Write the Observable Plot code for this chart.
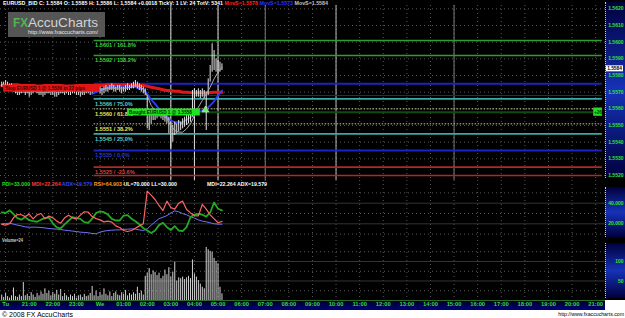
<!DOCTYPE html>
<html>
<head>
<meta charset="utf-8">
<title>EURUSD_BID 5-minute chart</title>
<script src="https://cdn.jsdelivr.net/npm/d3@7"></script>
<script src="https://cdn.jsdelivr.net/npm/@observablehq/plot@0.6"></script>
<style>
html,body{margin:0;padding:0;background:#fff;}
#chart{position:relative;width:625px;height:318px;overflow:hidden;background:#fff;}
#chart > div, #chart > svg{position:absolute;}
.panel{background:linear-gradient(to bottom,#00003c 0%,#1632b8 50%,#00003c 100%);border-left:1px dotted #c8c8c8;box-sizing:border-box;}
</style>
</head>
<body>
<div id="chart"></div>
<script>
// ---------------- DATA ----------------
const hourLabels = ["Tu","21:00","22:00","23:00","We","01:00","02:00","03:00","04:00","05:00","06:00","07:00","08:00","09:00","10:00","11:00","12:00","13:00","14:00","15:00","16:00","17:00","18:00","19:00","20:00","21:00"];
const timeWindow = ["Tu 19:47", "We 21:25"];
const priceWindow = [1.5517, 1.5622];
const priceTicks = [1.5520,1.5530,1.5540,1.5550,1.5560,1.5570,1.5580,1.5590,1.5600,1.5610,1.5620];
const indicatorWindow = [3.79, 62.04];
const indicatorTicks = [20, 40];
const indicatorDots = [10, 30, 50];
const volumeWindow = [0, 153.8];
const volumeTicks = [50, 100];
const volumeDots = [25, 75, 125];
const lastPrice = 1.5584;

// 5-minute bars starting Tu 19:50
const firstBar = "Tu 19:50";
const barMinutes = 5;
const barHigh = [1.5576,1.5576,1.5577,1.5576,1.5575,1.5575,1.5574,1.5573,1.5573,1.5572,
1.5574,1.5573,1.5572,1.5573,1.5572,1.5571,1.5572,1.5573,1.5572,1.5571,
1.5572,1.5571,1.5572,1.5573,1.5572,1.5571,1.5572,1.5571,1.5570,1.5571,
1.5572,1.5572,1.5571,1.5572,1.5571,1.5572,1.5573,1.5572,1.5571,1.5572,
1.5571,1.5572,1.5571,1.5572,1.5573,1.5572,1.5573,1.5574,1.5573,1.5574,
1.5573,1.5572,1.5573,1.5574,1.5573,1.5574,1.5575,1.5574,1.5573,1.5574,
1.5574,1.5573,1.5573,1.5574,1.5575,1.5574,1.5575,1.5576,1.5577,1.5576,
1.5575,1.5574,1.5573,1.5572,1.5568,1.5556,1.5558,1.5560,1.5558,1.5559,
1.5560,1.5559,1.5558,1.5557,1.5557,1.5555,1.5552,1.5550,1.5552,1.5551,
1.5553,1.5552,1.5554,1.5555,1.5556,1.5557,1.5558,1.5571,1.5572,1.5571,
1.5572,1.5571,1.5572,1.5571,1.5570,1.5578,1.5586,1.5599,1.5595,1.5590,
1.5589,1.5588,1.5587];
const barLow = [1.5573,1.5574,1.5574,1.5573,1.5572,1.5571,1.5570,1.5569,1.5568,1.5568,
1.5569,1.5570,1.5568,1.5569,1.5567,1.5568,1.5569,1.5570,1.5569,1.5568,
1.5568,1.5567,1.5568,1.5569,1.5569,1.5568,1.5568,1.5567,1.5567,1.5568,
1.5569,1.5569,1.5568,1.5569,1.5568,1.5568,1.5569,1.5569,1.5568,1.5568,
1.5567,1.5568,1.5568,1.5569,1.5569,1.5568,1.5569,1.5570,1.5570,1.5571,
1.5569,1.5568,1.5569,1.5570,1.5570,1.5571,1.5571,1.5570,1.5570,1.5571,
1.5570,1.5569,1.5570,1.5570,1.5571,1.5571,1.5572,1.5572,1.5573,1.5572,
1.5571,1.5570,1.5569,1.5568,1.5548,1.5547,1.5551,1.5553,1.5553,1.5554,
1.5555,1.5554,1.5553,1.5552,1.5551,1.5545,1.5536,1.5540,1.5544,1.5545,
1.5546,1.5547,1.5548,1.5549,1.5550,1.5551,1.5552,1.5555,1.5566,1.5567,
1.5567,1.5566,1.5567,1.5566,1.5547,1.5568,1.5576,1.5582,1.5583,1.5582,
1.5581,1.5582,1.5583];
const barVolume = [14,8,18,10,6,12,32,10,8,14,
10,46,12,16,10,20,14,8,18,12,
22,16,30,18,24,12,20,16,26,14,
28,10,18,12,8,14,10,16,6,12,
14,8,16,10,12,18,36,12,24,10,
20,14,30,16,12,22,10,18,22,14,
12,20,16,26,12,18,14,20,16,34,
18,24,14,62,70,82,66,76,72,64,
70,56,62,78,66,84,60,72,98,50,
58,56,60,54,58,62,56,104,68,60,
51,42,34,30,136,130,126,124,108,100,
94,34,17];

// 10-minute study samples starting Tu 19:50
const firstStudy = "Tu 19:50";
const studyMinutes = 10;
const pdi = [31,30.5,33,29.5,25.5,24,26.5,23.5,22.5,22,24,25.5,26,20.5,16.5,15.5,19.5,23,26.5,25.5,24.8,21.6,21,25,30.5,32,31.3,29,24.8,23.2,23.2,28,28.5,25,22.5,19.5,15.7,13.5,11,13.5,18.7,21,16.7,14,17.7,13.5,12.8,16.7,26.4,29,29.7,28.8,27,31,40.7,34.6,33];
const mdi = [19.4,18.7,20,25.8,29,28.8,27,29.4,24.8,28.7,30,25,27.5,25.8,22.6,20.6,25.8,28.4,25.8,24.5,28.4,31.7,31.3,27,25,23.8,21.9,22.6,21.6,18,16.4,13.5,12.5,13.5,15.7,18,20,51.7,47.8,43.6,37.8,32.9,42,35.8,34.2,40,42,33.9,30.6,28,27.7,38.8,34.2,28.7,24.8,21,22.3];
const adx = [20,20.3,20.6,19.7,18.7,18,17,16.7,16.7,16.7,16.4,16,15.4,15.1,14.8,14.5,13.8,13.5,12.9,12.5,11.9,11.6,11.3,10.6,10.3,11.9,12.9,13.5,13.8,14.1,14.1,14.5,14.8,15.1,14.8,14.1,13.5,15.1,18.7,21.9,25,26.4,28,30.3,32.6,31.6,29.9,28.7,27,25.5,23.8,22.6,21.9,21,20,19.7,19.6];
const movRed = [1.5574,1.5574,1.5574,1.55745,1.55745,1.5574,1.5574,1.5574,1.5574,1.55735,
1.55735,1.5574,1.5574,1.5574,1.5574,1.5574,1.55735,1.55735,1.55735,1.5574,
1.5574,1.5574,1.5574,1.5574,1.5574,1.5574,1.5574,1.55745,1.55745,1.55745,
1.55745,1.55745,1.55745,1.5574,1.5574,1.5574,1.5574,
1.55735,1.5573,1.55725,1.5572,1.55715,1.5571,1.5571,1.55705,1.55705,1.5570,
1.5570,1.55698,1.55697,1.55696,1.55696,1.55697,1.55698,1.5570,1.5570,1.5570];
const movBlue = [null,null,null,null,null,null,null,null,null,null,
null,null,null,null,null,null,null,null,null,null,
null,null,null,
1.5569,1.5570,1.5571,1.5572,1.5573,1.5573,1.5573,1.5573,1.5573,1.5573,
1.5573,1.5573,1.5572,1.5572,1.5569,1.55655,1.5563,1.5560,1.5557,1.55547,
1.5553,1.5552,1.5552,1.5552,1.55535,1.5555,1.55565,1.5558,1.5559,1.5560,
1.5562,1.55645,1.5568,1.5571];
const movGray = [1.5575,1.5574,1.5572,1.5571,1.5570,1.5570,1.5570,1.5570,1.55705,1.5570,
1.5570,1.5570,1.5570,1.55705,1.5570,1.5570,1.5570,1.55705,1.5571,1.5571,
1.5570,1.5570,1.55705,1.5571,1.55715,1.5572,1.5572,1.5572,1.55725,1.5572,
1.5572,1.5572,1.55725,1.5573,1.5574,1.5573,1.5572,1.5568,1.5562,1.5559,
1.5557,1.5556,1.5554,1.5550,1.5547,1.5546,1.5546,1.5548,1.5551,1.5556,
1.5561,1.5565,1.5569,1.5573,1.5578,1.5582,1.5585];

// Fibonacci levels
const fibPrice = [1.5601, 1.5592, 1.5575, 1.5566, 1.5560, 1.5551, 1.5545, 1.5535, 1.5525, 1.5520];
const fibLabel = ["1.5601 / 161.8%", "1.5592 / 138.2%", "", "1.5566 / 75.0%", "1.5560 / 61.8%", "1.5551 / 38.2%", "1.5545 / 25.0%", "1.5535 / 0.0%", "1.5525 / -23.6%", ""];
const fibKind = ["ext", "ext", "top", "q", "mid", "mid", "q", "base", "neg", "neg"];
const fibFrom = "Tu 23:45", fibTo = "We 21:17";
const stopLevel = 1.5568;

// trade annotations
const stopBox = {text: "Stop EURUSD 1 @ 1.5536 in 22 pips", from: "Tu 19:55", to: "We 00:00", lo: 1.5570, hi: 1.55742};
const buyBox = {text: "Bought EURUSD 1 @ 1.5558", from: "We 01:10", to: "We 04:15", lo: 1.55557, hi: 1.55599};
const buyPrice = 1.5558;
const entry = {time: "We 04:28", price: 1.55593};
const plBox = {text: "+26", from: "We 20:55", to: "We 21:17", lo: 1.55555, hi: 1.55605};

const sessionFull = ["We 03:00", "We 05:00", "We 07:00", "We 10:00", "We 15:00"];
const sessionPartial = "We 04:00";
const sessionPartialTop = 1.5572;

const headerParts = ["EURUSD_BID C: 1.5584 O: 1.5585 H: 1.5586 L: 1.5584 +0.0018 TickV: 1 LV: 24 TotV: 5341 ", "MovS=1.5578 ", "MovS=1.5573 ", "MovS=1.5584"];
const studyParts = ["PDI=33.000 ", "MDI=22.264 ", "ADX=19.579 ", "RSI=64.903 ", "UL=70.000 LL=30.000"];
const studyRight = "MDI=22.264 ADX=19.579";
const volumeTitle = "Volume=24";

// ---------------- RENDER ----------------
const FONT = "'Liberation Sans', Arial, Helvetica, sans-serif";
const toH = s => { const [d, t] = s.split(" "); const [hh, mm] = t.split(":").map(Number); return (d === "We" ? 24 : 0) + hh + mm / 60 - 20; };
const xDomain = timeWindow.map(toH);
const hourIdx = hourLabels.map((_, i) => i);
const bars = barHigh.map((hi, i) => ({t: toH(firstBar) + i * barMinutes / 60, hi, lo: barLow[i], vol: barVolume[i]}));
const studies = pdi.map((p, k) => ({t: toH(firstStudy) + k * studyMinutes / 60, pdi: p, mdi: mdi[k], adx: adx[k], red: movRed[k], blue: movBlue[k], gray: movGray[k]}));
const fibs = fibPrice.map((p, i) => ({p, label: fibLabel[i], kind: fibKind[i]}));
const fx1 = toH(fibFrom), fx2 = toH(fibTo);

const chart = document.getElementById("chart");
function addDiv(css, cls) { const d = document.createElement("div"); if (cls) d.className = cls; Object.assign(d.style, css); chart.appendChild(d); return d; }
addDiv({left: "0px", top: "0px", width: "625px", height: "300px", background: "#000"});
addDiv({left: "0px", top: "300px", width: "605px", height: "10px", background: "linear-gradient(to bottom,#000028,#00007a)", borderTop: "1px solid #2d6a2d", boxSizing: "border-box"});
addDiv({left: "605px", top: "2px", width: "20px", height: "176px"}, "panel");
addDiv({left: "605px", top: "187px", width: "20px", height: "50px"}, "panel");
addDiv({left: "605px", top: "243px", width: "20px", height: "55px"}, "panel");

const common = {width: 625, marginLeft: 0, marginRight: 20, x: {domain: xDomain, axis: null}, color: {type: "identity"},
  style: {background: "transparent", overflow: "visible", fontFamily: FONT}};
function place(svg, top) { svg.style.position = "absolute"; svg.style.left = "0px"; svg.style.top = top + "px"; chart.appendChild(svg); return svg; }

const dotted = {stroke: "#585858", strokeDasharray: "1,3", strokeWidth: 1};
const axisText = {frameAnchor: "right", dx: 18, textAnchor: "end", fill: "#2ee82e", fontSize: 5, fontWeight: "bold"};
const fibStyle = {
  ext:  {stroke: "#2e9e2e", width: 1.6, text: "#3ad23a"},
  top:  {stroke: "#1c22c4", width: 2, text: "#2a34d0"},
  q:    {stroke: "#3aa9a9", width: 1.6, text: "#4fd0d0"},
  mid:  {stroke: "#c8c890", width: 1, dash: "1.5,1.5", text: "#e6e660"},
  base: {stroke: "#1c22c4", width: 2, text: "#2a34d0"},
  neg:  {stroke: "#b02828", width: 1.6, text: "#d84040"}
};
const sessionStroke = ["#e0e0e0", "#e0e0e0", "#7a7a7a", "#b8b8b8", "#7a7a7a"];
const boxText = {textAnchor: "start", dx: 1.5, fontSize: 4.7, fontWeight: "bold"};
const mid = d => (d.lo + d.hi) / 2;

const pricePlot = place(Plot.plot({
  ...common, height: 180, marginTop: 5, marginBottom: 0,
  y: {domain: priceWindow, axis: null},
  marks: [
    Plot.ruleY(priceTicks, dotted),
    Plot.ruleX(hourIdx, dotted),
    Plot.ruleX(sessionFull, {x: d => toH(d), stroke: (d, i) => sessionStroke[i]}),
    Plot.ruleX([sessionPartial], {x: d => toH(d), y1: sessionPartialTop, y2: priceWindow[0], stroke: "#e0e0e0"}),
    ...fibs.map(f => Plot.ruleY([f.p], {x1: fx1, x2: fx2, stroke: fibStyle[f.kind].stroke, strokeWidth: fibStyle[f.kind].width, strokeDasharray: fibStyle[f.kind].dash})),
    Plot.ruleY([stopLevel], {x1: fx1, x2: fx2, stroke: "#5c1a1a"}),
    Plot.ruleY([buyPrice], {x1: toH(buyBox.to), x2: toH(plBox.from), stroke: "#0f4a0f", strokeWidth: 2}),
    Plot.line(studies, {x: "t", y: "red", stroke: "#e01818", strokeWidth: 3}),
    Plot.line(studies.filter(d => d.blue != null), {x: "t", y: "blue", stroke: "#2b3dff", strokeWidth: 1.8}),
    Plot.ruleX(bars, {x: "t", y1: "lo", y2: "hi", stroke: "#e4e4e4"}),
    Plot.line(studies, {x: "t", y: "gray", stroke: "#a8a8a8", strokeWidth: 1}),
    ...fibs.filter(f => f.label).map(f => Plot.text([f], {x: fx1, y: "p", text: "label", dx: 1, dy: 5, textAnchor: "start", fill: fibStyle[f.kind].text, fontSize: 5.6, fontWeight: "bold"})),
    Plot.rect([stopBox], {x1: d => toH(d.from), x2: d => toH(d.to), y1: "lo", y2: "hi", fill: "#e41414"}),
    Plot.text([stopBox], {x: d => toH(d.from), y: mid, text: "text", fill: "#3a0000", ...boxText}),
    Plot.rect([buyBox], {x1: d => toH(d.from), x2: d => toH(d.to), y1: "lo", y2: "hi", fill: "#1ee61e"}),
    Plot.text([buyBox], {x: d => toH(d.from), y: mid, text: "text", fill: "#002200", ...boxText}),
    Plot.rect([plBox], {x1: d => toH(d.from), x2: d => toH(d.to), y1: "lo", y2: "hi", fill: "#22dd22"}),
    Plot.text([plBox], {x: d => (toH(d.from) + toH(d.to)) / 2, y: mid, text: "text", fill: "#003300", textAnchor: "middle", fontSize: 4.5, fontWeight: "bold"}),
    Plot.dot([entry], {x: d => toH(d.time), y: "price", symbol: "triangle", r: 2.6, fill: "#66ee66", stroke: "#d0ffd0", strokeWidth: 0.5}),
    Plot.text(priceTicks, {y: d => d, text: d => d.toFixed(4), ...axisText})
  ]
}), 0);

place(Plot.plot({
  ...common, height: 60, marginTop: 0, marginBottom: 0,
  y: {domain: indicatorWindow, axis: null},
  marks: [
    Plot.ruleX(hourIdx, dotted),
    Plot.ruleY(indicatorDots, dotted),
    Plot.ruleY(indicatorTicks, {stroke: "#333"}),
    Plot.line(studies, {x: "t", y: "adx", stroke: "#7272ff", strokeWidth: 1}),
    Plot.line(studies, {x: "t", y: "pdi", stroke: "#22aa22", strokeWidth: 1.8}),
    Plot.line(studies, {x: "t", y: "mdi", stroke: "#ff6464", strokeWidth: 1.2}),
    Plot.text(indicatorTicks, {y: d => d, text: d => d.toFixed(3), ...axisText})
  ]
}), 180);

place(Plot.plot({
  ...common, height: 70, marginTop: 0, marginBottom: 10,
  y: {domain: volumeWindow, axis: null},
  marks: [
    Plot.ruleX(hourIdx, dotted),
    Plot.ruleY(volumeDots, dotted),
    Plot.ruleY(volumeTicks, {stroke: "#333"}),
    Plot.ruleX(bars, {x: "t", y1: 0, y2: "vol", stroke: "#d2d2d2"}),
    Plot.text(volumeTicks, {y: d => d, text: d => String(d), ...axisText}),
    Plot.text(hourIdx, {x: d => d, text: d => hourLabels[d], frameAnchor: "bottom", dy: 5.3, fill: "#33dd33", fontSize: 5.8, fontWeight: "bold"})
  ]
}), 240);

// ---------------- overlay texts ----------------
const ov = d3.select(chart).append("svg").attr("width", 625).attr("height", 318)
  .style("left", "0px").style("top", "0px").style("font-family", FONT);

const hdrColors = ["#ffffff", "#ff2424", "#3030ff", "#c4c4c4"];
const hdr = ov.append("text").attr("x", 3).attr("y", 5.4).attr("font-size", 4.8).attr("font-weight", "bold")
  .attr("textLength", 325).attr("lengthAdjust", "spacingAndGlyphs");
headerParts.forEach((t, i) => hdr.append("tspan").attr("fill", hdrColors[i]).text(t));

const stColors = ["#22dd22", "#ff3838", "#3444ff", "#ff9a22", "#ffffff"];
const st = ov.append("text").attr("x", 2).attr("y", 185.6).attr("font-size", 4.8).attr("font-weight", "bold")
  .attr("textLength", 175).attr("lengthAdjust", "spacingAndGlyphs");
studyParts.forEach((t, i) => st.append("tspan").attr("fill", stColors[i]).text(t));
ov.append("text").attr("x", 207).attr("y", 185.6).attr("font-size", 4.8).attr("font-weight", "bold").attr("fill", "#fff")
  .attr("textLength", 60).attr("lengthAdjust", "spacingAndGlyphs").text(studyRight);
ov.append("text").attr("x", 2).attr("y", 242).attr("font-size", 4.8).attr("font-weight", "bold").attr("fill", "#cfcfcf")
  .attr("textLength", 21).attr("lengthAdjust", "spacingAndGlyphs").text(volumeTitle);

// watermark
const wm = ov.append("g");
wm.append("rect").attr("x", 8).attr("y", 12).attr("width", 97).attr("height", 25).attr("fill", "#5e5e5e").attr("opacity", 0.9);
wm.append("text").attr("x", 13).attr("y", 27).attr("font-size", 13).attr("font-weight", "bold").attr("fill", "#52b452")
  .attr("textLength", 15).attr("lengthAdjust", "spacingAndGlyphs").text("FX");
wm.append("text").attr("x", 28).attr("y", 27).attr("font-size", 13).attr("fill", "#d2d2d2")
  .attr("textLength", 70).attr("lengthAdjust", "spacingAndGlyphs").text("AccuCharts");
wm.append("text").attr("x", 28).attr("y", 34.2).attr("font-size", 4.6).attr("fill", "#e6e6e6")
  .attr("textLength", 70).attr("lengthAdjust", "spacingAndGlyphs").text("http://www.fxaccucharts.com/");

// current price box
const yCur = pricePlot.scale("y").apply(lastPrice);
ov.append("rect").attr("x", 606).attr("y", yCur - 3).attr("width", 17).attr("height", 6).attr("fill", "#fff");
ov.append("text").attr("x", 614.5).attr("y", yCur + 1.8).attr("text-anchor", "middle").attr("font-size", 4.8)
  .attr("font-weight", "bold").attr("fill", "#000").text(lastPrice.toFixed(4));

// footer
ov.append("text").attr("x", 2).attr("y", 316.5).attr("font-size", 6.5).attr("fill", "#000")
  .attr("textLength", 71).attr("lengthAdjust", "spacingAndGlyphs").text("© 2008 FX AccuCharts");
ov.append("text").attr("x", 624).attr("y", 315.6).attr("font-size", 5.2).attr("fill", "#000").attr("text-anchor", "end")
  .text("http://www.fxaccucharts.com");
</script>
</body>
</html>
